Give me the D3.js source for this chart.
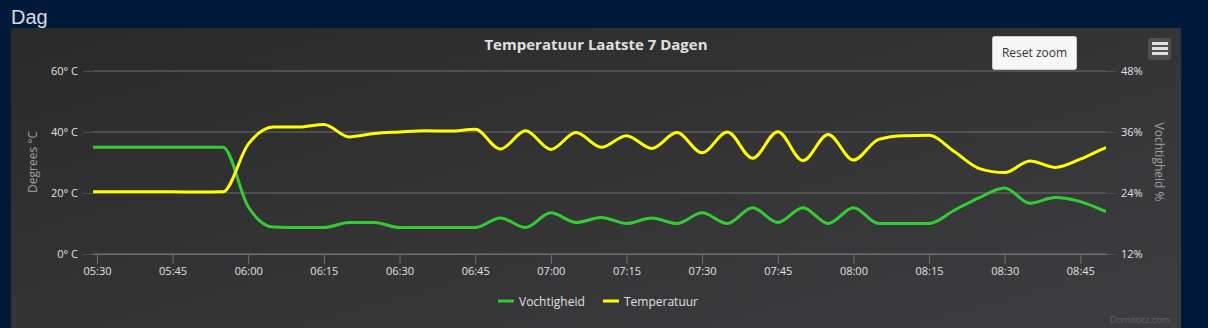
<!DOCTYPE html>
<html>
<head>
<meta charset="utf-8">
<script src="https://cdn.jsdelivr.net/npm/d3@7"></script>
<style>
  html, body { margin: 0; padding: 0; background: #021a3a; }
  svg { display: block; }
</style>
</head>
<body>
<svg id="chart" width="1208" height="328"></svg>
<script>
// ---- data ----
const times = ["05:25","05:30","05:35","05:40","05:45","05:50","05:55","06:00","06:05","06:10",
  "06:15","06:20","06:25","06:30","06:35","06:40","06:45","06:50","06:55","07:00",
  "07:05","07:10","07:15","07:20","07:25","07:30","07:35","07:40","07:45","07:50",
  "07:55","08:00","08:05","08:10","08:15","08:20","08:25","08:30","08:35","08:40",
  "08:45","08:50","08:55"];
const temperatuur = [20.4,20.4,20.4,20.4,20.4,20.3,20.4,36.0,41.6,41.6,
  42.5,38.4,39.5,40.0,40.4,40.3,40.9,34.4,40.4,34.3,
  39.8,35.0,38.8,34.6,39.8,33.2,40.0,31.4,40.1,30.6,
  39.2,30.8,37.6,38.8,38.9,33.6,28.0,26.7,30.5,28.4,
  31.1,34.8,37.0];
const vochtigheid = [33.0,33.0,33.0,33.0,33.0,33.0,33.0,21.3,17.3,17.2,
  17.2,18.2,18.2,17.2,17.2,17.2,17.2,19.1,17.2,20.1,
  18.2,19.2,18.0,19.1,18.0,20.1,18.0,21.1,18.2,21.1,
  18.0,21.1,18.0,18.0,18.0,20.6,23.1,25.0,22.0,23.1,
  22.3,20.4,18.6];
const xDomain = ["05:29:13","08:50:05"];
const xTicks = ["05:30","05:45","06:00","06:15","06:30","06:45","07:00","07:15","07:30","07:45","08:00","08:15","08:30","08:45"];
const leftTicks = [0,20,40,60];
const rightTicks = [12,24,36,48];
const seriesNames = ["Vochtigheid","Temperatuur"];
const seriesColors = ["#33cc33","#ffff00"];
const title = "Temperatuur Laatste 7 Dagen";

// ---- layout ----
const svg = d3.select("#chart");
const plot = {left: 93, right: 1106, top: 71, bottom: 254};
const parse = s => d3.timeParse(s.length > 5 ? "%H:%M:%S" : "%H:%M")(s);

// background
svg.append("rect").attr("width",1208).attr("height",328).attr("fill","#021a3a");
svg.append("text").attr("x",11).attr("y",24).text("Dag")
  .attr("font-family","Liberation Sans, Arial, sans-serif").attr("font-size",20).attr("fill","#d8dbe0");

const defs = svg.append("defs");
const grad = defs.append("linearGradient").attr("id","bg").attr("x1",0).attr("y1",0).attr("x2",1).attr("y2",1);
grad.append("stop").attr("offset","0%").attr("stop-color","#2a2a2b");
grad.append("stop").attr("offset","100%").attr("stop-color","#3e3e40");
svg.append("rect").attr("x",11).attr("y",28).attr("width",1170).attr("height",320).attr("fill","url(#bg)");

defs.append("clipPath").attr("id","clip").append("rect")
  .attr("x",plot.left).attr("y",plot.top-20).attr("width",plot.right-plot.left).attr("height",plot.bottom-plot.top+40);

const x = d3.scaleTime().domain(xDomain.map(parse)).range([plot.left, plot.right]);
const yL = d3.scaleLinear().domain([0,60]).range([plot.bottom, plot.top]);
const yR = d3.scaleLinear().domain([12,48]).range([plot.bottom, plot.top]);

const font = "'Open Sans', 'Noto Sans', sans-serif";

// grid lines
svg.append("g").selectAll("line").data(leftTicks).join("line")
  .attr("x1",plot.left).attr("x2",plot.right)
  .attr("y1",d=>yL(d)).attr("y2",d=>yL(d))
  .attr("stroke","#707073").attr("stroke-width",1);

// left axis
const gL = svg.append("g").attr("transform",`translate(${plot.left},0)`)
  .call(d3.axisLeft(yL).tickValues(leftTicks).tickFormat(d=>d+"° C").tickSize(10).tickPadding(5));
gL.select(".domain").remove();
gL.selectAll(".tick line").attr("stroke","#505053");
gL.selectAll("text").attr("fill","#e0e0e3").attr("font-size",11).attr("font-family",font);

// right axis
const gR = svg.append("g").attr("transform",`translate(${plot.right},0)`)
  .call(d3.axisRight(yR).tickValues(rightTicks).tickFormat(d=>d+"%").tickSize(10).tickPadding(5));
gR.select(".domain").remove();
gR.selectAll(".tick line").attr("stroke","#505053");
gR.selectAll("text").attr("fill","#e0e0e3").attr("font-size",11).attr("font-family",font);

// x axis
const gX = svg.append("g").attr("transform",`translate(0,${plot.bottom})`)
  .call(d3.axisBottom(x).tickValues(xTicks.map(parse)).tickFormat(d3.timeFormat("%H:%M")).tickSize(10).tickPadding(3).tickSizeOuter(0));
gX.select(".domain").attr("stroke","#707073");
gX.selectAll(".tick line").attr("stroke","#707073");
gX.selectAll("text").attr("fill","#e0e0e3").attr("font-size",11).attr("font-family",font);

// axis titles
svg.append("text").attr("transform","translate(37,162) rotate(-90)").attr("text-anchor","middle")
  .text("Degrees °C").attr("fill","#a0a0a3").attr("font-size",12).attr("font-family",font);
svg.append("text").attr("transform","translate(1155,162) rotate(90)").attr("text-anchor","middle")
  .text("Vochtigheid %").attr("fill","#a0a0a3").attr("font-size",12).attr("font-family",font);

// title
svg.append("text").attr("x",596).attr("y",50).attr("text-anchor","middle").text(title)
  .attr("fill","#e0e0e3").attr("font-size",15).attr("font-weight","bold").attr("font-family",font);

// lines
const tParsed = times.map(parse);
const lineG = svg.append("g").attr("clip-path","url(#clip)");
const hum = d3.line().x((d,i)=>x(tParsed[i])).y(d=>yR(d)).curve(d3.curveMonotoneX);
const tmp = d3.line().x((d,i)=>x(tParsed[i])).y(d=>yL(d)).curve(d3.curveMonotoneX);
lineG.append("path").attr("d",hum(vochtigheid)).attr("fill","none").attr("stroke",seriesColors[0]).attr("stroke-width",3).attr("stroke-linejoin","round");
lineG.append("path").attr("d",tmp(temperatuur)).attr("fill","none").attr("stroke",seriesColors[1]).attr("stroke-width",3).attr("stroke-linejoin","round");

// legend
const legendX = [498, 603];
seriesNames.forEach((n,i)=>{
  svg.append("line").attr("x1",legendX[i]).attr("x2",legendX[i]+16).attr("y1",301).attr("y2",301)
    .attr("stroke",seriesColors[i]).attr("stroke-width",3);
  svg.append("text").attr("x",legendX[i]+21).attr("y",305.5).text(n)
    .attr("fill","#e0e0e3").attr("font-size",12).attr("font-family",font);
});

// reset zoom button
svg.append("rect").attr("x",992.5).attr("y",36.5).attr("width",84).attr("height",33).attr("rx",2)
  .attr("fill","#f7f7f7").attr("stroke","#cccccc");
svg.append("text").attr("x",1034.5).attr("y",57).attr("text-anchor","middle").text("Reset zoom")
  .attr("fill","#333333").attr("font-size",12).attr("font-family",font);

// menu button
svg.append("rect").attr("x",1148).attr("y",38).attr("width",23).attr("height",22).attr("rx",3).attr("fill","#505053");
[43.5,48.5,53.5].forEach(yy=>{
  svg.append("line").attr("x1",1152).attr("x2",1168).attr("y1",yy).attr("y2",yy)
    .attr("stroke","#e0e0e3").attr("stroke-width",3);
});

// credit
svg.append("text").attr("x",1170).attr("y",323).attr("text-anchor","end").text("Domoticz.com")
  .attr("fill","#666666").attr("font-size",9).attr("font-family",font);
</script>
</body>
</html>
